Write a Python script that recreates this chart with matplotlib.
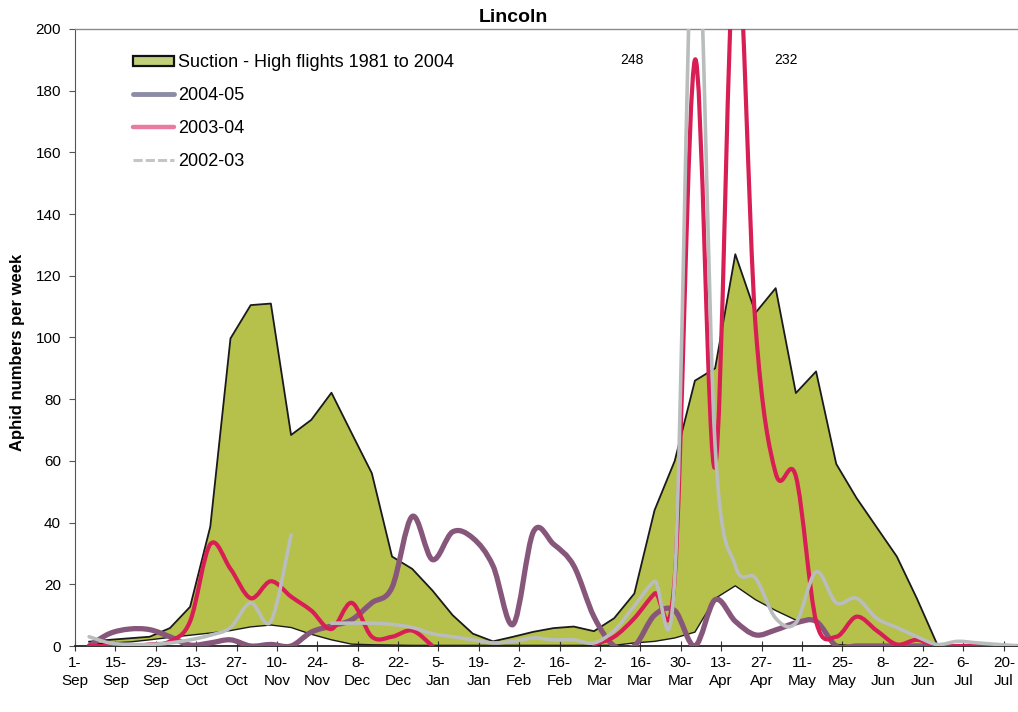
import numpy as np
import matplotlib
matplotlib.use("Agg")
import matplotlib.pyplot as plt
from matplotlib.path import Path
from matplotlib.patches import PathPatch, Patch
from matplotlib.lines import Line2D

plt.rcParams['font.family'] = ['Liberation Sans', 'DejaVu Sans']

# ---------------- data (weekly, 1-Sep .. 20-Jul) ----------------
tick_labels = ["1-\nSep", "15-\nSep", "29-\nSep", "13-\nOct", "27-\nOct", "10-\nNov",
               "24-\nNov", "8-\nDec", "22-\nDec", "5-\nJan", "19-\nJan", "2-\nFeb",
               "16-\nFeb", "2-\nMar", "16-\nMar", "30-\nMar", "13-\nApr", "27-\nApr",
               "11-\nMay", "25-\nMay", "8-\nJun", "22-\nJun", "6-\nJul", "20-\nJul"]

nan = np.nan
suction_high = [1.4, 2, 2.5, 3, 5.8, 12.7, 38.7, 99.7, 110.5, 111, 68.4, 73.3, 82.1, 69,
                56, 29, 25, 18, 10, 4, 1.5, 3, 4.6, 5.8, 6.3, 4.8, 9, 17, 44, 60, 86, 90,
                127, 108, 116, 82, 89, 59, 48, 38.5, 29, 15.3, 0.5,
                nan, nan, nan, nan]
suction_low = [0.5, 1, 1.3, 2, 2.8, 3.5, 4.2, 5, 6.2, 6.8, 6, 3.8, 2, 0.6,
               0.4, 0.3, 0.2, 0.2, 0.2, 0.2, 0.2, 0.2, 0.2, 0.2, 0.2, 0.2, 0.2, 1, 1.5, 2.6,
               4.5, 15.4, 19.5, 15, 11.5, 8.4, 8, 0.5, 0, 0, 0, 0, 0,
               nan, nan, nan, nan]
y2004_05 = [0, 4, 5.5, 5.3, 3, 0.3, 1, 2, 0, 0.5, 0, 4.5, 6.5, 8.5, 14, 19, 42, 28, 37,
            35, 26, 7, 37, 33, 26, 9.5, 0, 0, 10, 11.5, 0, 15, 8, 3.6, 5.2, 7.5, 8, 0,
            0, 0, 0, 0, 0, nan, nan, nan, nan]
y2003_04 = [0, 0, 0, 0.5, 1.5, 8, 33, 25, 15.5, 21, 16, 11.5, 5.5, 14, 3, 3, 5, 0, nan,
            nan, nan, nan, nan, nan, nan, 0.5, 3, 9, 17, 22, 190, 58, 232, 104, 56, 55, 8, 3,
            9.5, 5, 0.5, 2, 0, 0, 0, 0, 0]
y2002_03 = [3, 1, 0.5, 0.5, 1, 2, 3.5, 6, 14, 8, 36, nan, 7.4, 7.4, 7.4, 7, 6, 4, 3, 2,
            1, 1.5, 2.6, 2, 2, 1, 5, 13, 21, 22, 248, 65, 26, 22, 9, 7.5, 24, 14,
            15.5, 9, 6, 3, 0.5, 1.5, 1, 0.5, 0]

weeks = np.arange(len(y2003_04))
xpos = weeks + 0.7          # data points sit slightly right of the week tick


def smooth_patch(x, y, **kw):
    """Excel-like smoothed line (cubic Bezier through points), gaps at NaN."""
    x = np.asarray(x, float)
    y = np.asarray(y, float)
    verts, codes = [], []
    idx = np.where(~np.isnan(y))[0]
    runs = np.split(idx, np.where(np.diff(idx) != 1)[0] + 1)
    for r in runs:
        if len(r) < 2:
            continue
        P = np.column_stack([x[r], y[r]])
        n = len(P)
        verts.append(P[0]); codes.append(Path.MOVETO)
        for i in range(n - 1):
            p0 = P[i - 1] if i > 0 else P[i]
            p1, p2 = P[i], P[i + 1]
            p3 = P[i + 2] if i + 2 < n else P[i + 1]
            c1 = p1 + (p2 - p0) / 6.0
            c2 = p2 - (p3 - p1) / 6.0
            verts += [c1, c2, p2]
            codes += [Path.CURVE4] * 3
    return PathPatch(Path(verts, codes), fill=False, **kw)


W, H = 1018, 712
fig = plt.figure(figsize=(W / 100, H / 100), dpi=100)
ax = fig.add_axes([75 / W, 66 / H, (W - 75) / W, 617 / H])

green = '#b6c14b'
hi = np.array(suction_high, float)
lo = np.array(suction_low, float)
ax.fill_between(xpos, lo, hi, facecolor=green, edgecolor='none', zorder=1)
ax.plot(xpos, hi, color='#1a1a1a', lw=1.3, zorder=2)
ax.plot(xpos, lo, color='#1a1a1a', lw=1.0, zorder=2)

c_p, c_r, c_g = '#87577b', '#d81f55', '#b9bdbd'
ax.add_patch(smooth_patch(xpos, y2004_05, edgecolor=c_p, lw=3.8, zorder=3,
                          capstyle='round', joinstyle='round'))
ax.add_patch(smooth_patch(xpos, y2003_04, edgecolor=c_r, lw=3.0, zorder=4,
                          capstyle='round', joinstyle='round'))
ax.add_patch(smooth_patch(xpos, y2002_03, edgecolor=c_g, lw=2.6, zorder=5,
                          capstyle='round', joinstyle='round'))

# off-scale peak labels
g = np.array(y2002_03, float)
r = np.array(y2003_04, float)
ig, ir = int(np.nanargmax(g)), int(np.nanargmax(r))
ax.text(xpos[ig] - 3.1, 190, f"{int(g[ig])}", ha='center', va='center', fontsize=10)
ax.text(xpos[ir] + 2.5, 190, f"{int(r[ir])}", ha='center', va='center', fontsize=10)

ax.set_xlim(0, 46.7)
ax.set_ylim(0, 200)
ax.set_yticks(np.arange(0, 201, 20))
ax.set_xticks(np.arange(0, 47, 2))
ax.set_xticklabels(tick_labels, fontsize=11, linespacing=1.3)
ax.tick_params(axis='y', direction='out', length=4, labelsize=11, pad=6, color='#555555')
ax.tick_params(axis='x', direction='inout', length=7, pad=4, color='#333333')

ax.spines['right'].set_visible(False)
ax.spines['top'].set_color('#8a8a8a')
ax.spines['top'].set_linewidth(1.0)
ax.spines['left'].set_color('#555555')
ax.spines['bottom'].set_color('#222222')
ax.spines['bottom'].set_linewidth(1.3)

fig.text(513 / W, 1 - 17 / H, "Lincoln", ha='center', va='center',
         fontsize=14, fontweight='bold')
fig.text(18 / W, 1 - 352 / H, "Aphid numbers per week", rotation=90,
         ha='center', va='center', fontsize=12, fontweight='bold')

handles = [
    Patch(facecolor='#c3d07a', edgecolor='#111111', linewidth=1.6),
    Line2D([], [], color='#8c8ca6', lw=3.5, solid_capstyle='round'),
    Line2D([], [], color='#ea7aa0', lw=3.2, solid_capstyle='round'),
    Line2D([], [], color='#c4c6c6', lw=2.2, linestyle=(0, (3, 1))),
]
labels = ["Suction - High flights 1981 to 2004", "2004-05", "2003-04", "2002-03"]
ax.legend(handles, labels, loc='upper left', bbox_to_anchor=(0.061, 0.959),
          frameon=False, fontsize=13, handlelength=2.3, handleheight=0.5,
          handletextpad=0.2, labelspacing=0.88, borderpad=0, borderaxespad=0)

fig.savefig("out.png", dpi=100)
